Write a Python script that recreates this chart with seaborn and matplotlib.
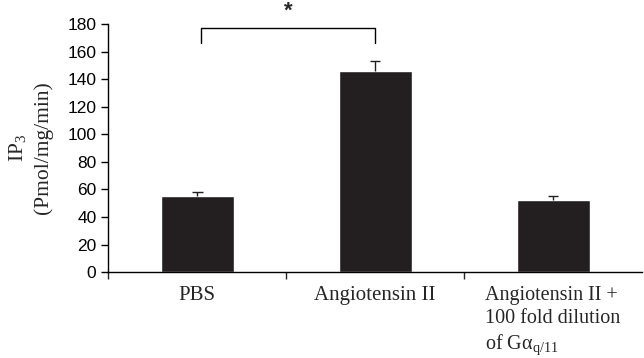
import matplotlib
matplotlib.use("Agg")
import matplotlib.pyplot as plt
import seaborn as sns
import pandas as pd

groups = ["PBS", "Angiotensin II", "Angiotensin II +\n100 fold dilution\nof Gα$_{\\mathrm{q/11}}$"]
means = [55, 146, 52]
errs = [3, 7, 3]

sns.set_style("ticks")
plt.rcParams['font.family'] = ['Liberation Sans', 'DejaVu Sans']
plt.rcParams['mathtext.fontset'] = 'custom'
plt.rcParams['mathtext.rm'] = 'Liberation Serif'
plt.rcParams['mathtext.it'] = 'Liberation Serif:italic'

df = pd.DataFrame({'group': groups, 'ip3': means})

fig = plt.figure(figsize=(6.44, 3.58), dpi=100)
ax = fig.add_axes([0.168, 0.240, 0.829, 0.693])
sns.barplot(data=df, x='group', y='ip3', color='#231f20', saturation=1,
            width=0.41, ax=ax, errorbar=None)

# upper error bars only
xs = range(len(means))
tops = [m + e for m, e in zip(means, errs)]
ax.vlines(xs, means, tops, color='#231f20', lw=1)
ax.hlines(tops, [x - 0.03 for x in xs], [x + 0.03 for x in xs], color='#231f20', lw=1)

ax.set_xlim(-0.5, 2.5)
ax.set_ylim(0, 180)
ax.set_yticks(range(0, 181, 20))
ax.tick_params(axis='y', labelsize=12.5, length=5, width=1, direction='out', colors='black')
ax.tick_params(axis='x', which='major', length=0)
ax.set_xticks([-0.5, 0.5, 1.5], minor=True)
ax.tick_params(axis='x', which='minor', length=5, width=1, direction='out')
ax.set_xticklabels([])
for i, lab in enumerate(groups):
    if i < 2:
        ax.text(i, -0.055, lab, transform=ax.get_xaxis_transform(), ha='center', va='top',
                family='Liberation Serif', fontsize=15)
    else:
        ax.text(i - 0.38, -0.055, lab, transform=ax.get_xaxis_transform(), ha='left', va='top',
                family='Liberation Serif', fontsize=14.5, linespacing=1.3)
ax.set_xlabel('')
ax.set_ylabel('IP$_3$\n(Pmol/mg/min)', family='Liberation Serif', fontsize=15.5, labelpad=10,
              linespacing=1.4)
for s in ['top', 'right']:
    ax.spines[s].set_visible(False)
for s in ['left', 'bottom']:
    ax.spines[s].set_linewidth(1)
    ax.spines[s].set_color('black')

# significance bracket
ax.plot([0.02, 0.02, 1.0, 1.0], [166, 177, 177, 166], color='black', lw=1, clip_on=False)
ax.text(0.51, 182, '*', ha='center', va='bottom', fontsize=16, fontweight='bold', clip_on=False)

fig.savefig('out.png', dpi=100)
